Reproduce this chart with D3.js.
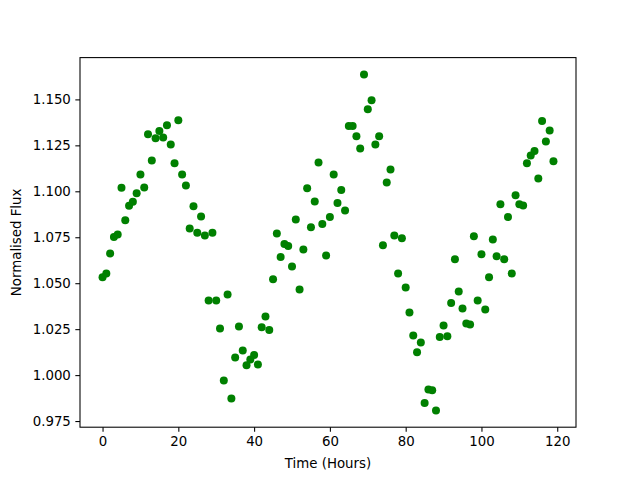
<!DOCTYPE html>
<html>
<head>
<meta charset="utf-8">
<script src="https://cdn.jsdelivr.net/npm/d3@7"></script>
<style>
  body { margin: 0; background: #fff; }
  text { font-family: "DejaVu Sans", sans-serif; }
</style>
</head>
<body>
<svg id="chart" width="640" height="480"></svg>
<script>
// flux readings, one per hour starting at hour 0
const flux = [
  1.0532, 1.0553, 1.0662, 1.0752, 1.0765, 1.1019, 1.0842, 1.0921, 1.0943, 1.0989,
  1.1092, 1.1021, 1.1310, 1.1168, 1.1288, 1.1328, 1.1293, 1.1359, 1.1255, 1.1152,
  1.1386, 1.1092, 1.1032, 1.0798, 1.0919, 1.0774, 1.0863, 1.0760, 1.0406, 1.0774,
  1.0406, 1.0254, 0.9971, 1.0439, 0.9873, 1.0096, 1.0265, 1.0134, 1.0054, 1.0085,
  1.0110, 1.0058, 1.0261, 1.0319, 1.0245, 1.0521, 1.0771, 1.0642, 1.0713, 1.0702,
  1.0591, 1.0847, 1.0466, 1.0684, 1.1017, 1.0804, 1.0945, 1.1157, 1.0822, 1.0651,
  1.0860, 1.1092, 1.0937, 1.1007, 1.0896, 1.1355, 1.1355, 1.1299, 1.1233, 1.1636,
  1.1446, 1.1495, 1.1255, 1.1299, 1.0707, 1.1048, 1.1119, 1.0760, 1.0553, 1.0744,
  1.0477, 1.0341, 1.0216, 1.0124, 1.0178, 0.9848, 0.9922, 0.9917, 0.9808, 1.0207,
  1.0270, 1.0211, 1.0392, 1.0630, 1.0455, 1.0363, 1.0281, 1.0276, 1.0756, 1.0406,
  1.0657, 1.0357, 1.0532, 1.0738, 1.0647, 1.0930, 1.0630, 1.0860, 1.0553, 1.0978,
  1.0930, 1.0923, 1.1152, 1.1195, 1.1219, 1.1070, 1.1382, 1.1271, 1.1331, 1.1163
];
const hours = d3.range(flux.length);

const xTicks = [0, 20, 40, 60, 80, 100, 120];
const yTicks = [0.975, 1.000, 1.025, 1.050, 1.075, 1.100, 1.125, 1.150];

const plotLeft = 80, plotRight = 576, plotTop = 57.6, plotBottom = 427.2;
const svg = d3.select("#chart");

// matplotlib style 5% padding on each side
function padded(ext) {
  const p = (ext[1] - ext[0]) * 0.05;
  return [ext[0] - p, ext[1] + p];
}

const x = d3.scaleLinear().domain(padded(d3.extent(hours))).range([plotLeft, plotRight]);
const y = d3.scaleLinear().domain(padded(d3.extent(flux))).range([plotBottom, plotTop]);

svg.append("g")
  .selectAll("circle")
  .data(hours)
  .join("circle")
  .attr("cx", d => x(d))
  .attr("cy", d => y(flux[d]))
  .attr("r", 4)
  .attr("fill", "#008000");

const xAxis = svg.append("g")
  .attr("transform", `translate(0,${plotBottom})`)
  .call(d3.axisBottom(x).tickValues(xTicks).tickSize(4.67).tickPadding(4.5).tickFormat(d3.format("d")));

const yAxis = svg.append("g")
  .attr("transform", `translate(${plotLeft},0)`)
  .call(d3.axisLeft(y).tickValues(yTicks).tickSize(4.67).tickPadding(4.5).tickFormat(d3.format(".3f")));

[xAxis, yAxis].forEach(g => {
  g.select(".domain").remove();
  g.selectAll(".tick line").attr("stroke", "#000").attr("stroke-width", 1.07);
  g.selectAll(".tick text").attr("font-size", 13.33).attr("fill", "#000")
    .style("font-family", "DejaVu Sans, sans-serif");
});

svg.append("rect")
  .attr("x", plotLeft).attr("y", plotTop)
  .attr("width", plotRight - plotLeft).attr("height", plotBottom - plotTop)
  .attr("fill", "none").attr("stroke", "#000").attr("stroke-width", 1.07);

svg.append("text")
  .attr("x", (plotLeft + plotRight) / 2).attr("y", 468)
  .attr("text-anchor", "middle").attr("font-size", 13.33)
  .text("Time (Hours)");

svg.append("text")
  .attr("transform", `translate(21,${(plotTop + plotBottom) / 2}) rotate(-90)`)
  .attr("text-anchor", "middle").attr("font-size", 13.33)
  .text("Normalised Flux");
</script>
</body>
</html>
